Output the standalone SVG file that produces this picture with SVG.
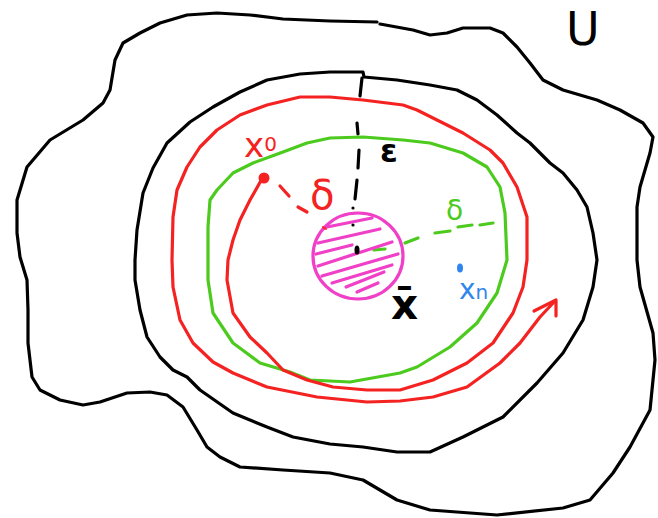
<svg xmlns="http://www.w3.org/2000/svg" width="658" height="518" viewBox="0 0 658 518">
<style>
.c{fill:none;stroke-width:3.2;stroke-linejoin:round;stroke-linecap:round}
.k{stroke:#000}.r{stroke:#f52222}.g{stroke:#4ccb1e}.p{stroke:#f040c8}.b{stroke:#2f86ee}
.t{font-family:"DejaVu Sans",sans-serif}
</style>
<defs><clipPath id="cc"><ellipse cx="358" cy="256" rx="45" ry="43"/></clipPath></defs>
<rect width="658" height="518" fill="#fff"/>
<g id="U-set">
<polyline class="c k" points="377,22 330,21 283,19 250,15 217,13 187,15 160,23 140,33 123,43 115,60 110,90 103,103 83,120 50,140 27,167 17,200 17,233 20,257 27,280 28,310 28,343 32,377 40,390 60,400 83,405 100,402 127,393 150,392 167,395 183,407 197,430 207,447 220,457 240,467 283,470 330,473 363,480 397,500 430,510 497,515 563,508 590,500 613,473 630,447 650,410 655,360 653,333 640,287 637,260 637,207 640,187 650,153 653,137 643,123 620,110 597,100 563,90 543,80 530,63 517,47 503,33 490,28 463,28 447,33 430,35 413,30 380,24"/>
<text class="t" x="566" y="45" font-size="46">U</text>
</g>
<g id="eps-ball">
<polyline class="c k" points="330,72 363,72 364,77 397,80 430,85 457,90 477,100 497,115 517,133 530,143 550,163 563,173 577,190 587,207 593,233 597,260 593,287 583,320 563,353 537,383 503,417 463,437 430,452 397,452 363,447 330,444 293,437 267,427 233,413 200,390 187,377 173,370 160,357 147,337 140,310 135,280 135,260 137,230 143,193 153,168 167,143 190,122 213,107 240,92 267,80 300,74 330,72"/>
<g class="c k" stroke-width="3">
<line x1="362" y1="78" x2="360" y2="96"/>
<line x1="357" y1="123" x2="358" y2="134"/>
<line x1="359" y1="150" x2="358" y2="168"/>
<line x1="357" y1="180" x2="355" y2="199"/>
</g>
<text class="t" x="380" y="162" font-size="32" font-weight="bold" fill="#000">ε</text>
</g>
<g id="delta-ball">
<polyline class="c g" points="330,138 363,137 403,140 430,143 463,153 487,167 500,187 505,213 507,260 497,293 477,323 450,347 417,367 400,373 350,382 310,380 290,372 260,363 233,343 213,313 208,280 208,260 208,227 210,200 217,190 233,173 253,163 283,152 307,143 330,138"/>
<g class="c g">
<line x1="405" y1="243" x2="418" y2="238"/>
<line x1="435" y1="233" x2="450" y2="231"/>
<line x1="458" y1="227" x2="472" y2="225"/>
<line x1="480" y1="225" x2="493" y2="223"/>
<line x1="374" y1="250" x2="385" y2="249"/>
</g>
<text class="t" x="446" y="220" font-size="28" fill="#4ccb1e">δ</text>
</g>
<g id="xbar-ball">
<ellipse cx="358" cy="256" rx="45" ry="43" class="c p" fill="none"/>
<g clip-path="url(#cc)" class="c p" stroke-width="3">
<line x1="327" y1="227" x2="372" y2="218"/>
<line x1="318" y1="243" x2="380" y2="229"/>
<line x1="316" y1="254" x2="352" y2="245"/>
<line x1="318" y1="266" x2="392" y2="242"/>
<line x1="322" y1="276" x2="398" y2="254"/>
<line x1="332" y1="283" x2="392" y2="265"/>
<line x1="346" y1="287" x2="384" y2="272"/>
<line x1="357" y1="292" x2="378" y2="283"/>
</g>
<ellipse cx="357" cy="250" rx="2.5" ry="4.5" fill="#000"/>
<circle cx="353" cy="225" r="1.6" fill="#000"/>
<circle cx="353" cy="208" r="1.6" fill="#000"/>
<text class="t" x="391" y="319" font-size="42" font-weight="bold" fill="#000">x̄</text>
</g>
<g id="xn">
<ellipse cx="460" cy="268" rx="3" ry="4.5" fill="#2f86ee"/>
<text class="t" x="459" y="299" font-size="28" fill="#2f86ee">x<tspan font-size="20">n</tspan></text>
</g>
<g id="x0">
<circle cx="264" cy="178" r="5.5" fill="#f52222"/>
<text class="t" x="244" y="157" font-size="34" fill="#f52222">x<tspan font-size="20" dy="-6">0</tspan></text>
</g>
<g id="connectors">
<g class="c r">
<polyline points="263,177 250,200 240,220 233,240 228,260 227,280 233,313 250,337 267,353 283,370 307,380 333,387 367,390 400,390 433,380 467,363 493,343 513,313 523,287 527,260 527,217 517,187 503,163 490,150 463,133 437,120 417,110 403,105 363,100 330,97 300,97 267,105 240,115 217,130 200,147 187,167 177,190 173,217 172,260 173,287 180,320 193,343 213,362 233,373 267,387 317,397 367,402 400,401 433,397 467,387 500,363 520,343 540,317 555,301"/>
<polyline points="534,311 556,300 556,316"/>
<line x1="280" y1="186" x2="289" y2="196"/>
<line x1="298" y1="207" x2="307" y2="212"/>
<line x1="323" y1="227" x2="326" y2="229" stroke-width="2"/>
</g>
<text class="t" x="310" y="209" font-size="40" fill="#f52222">δ</text>
</g>
</svg>
